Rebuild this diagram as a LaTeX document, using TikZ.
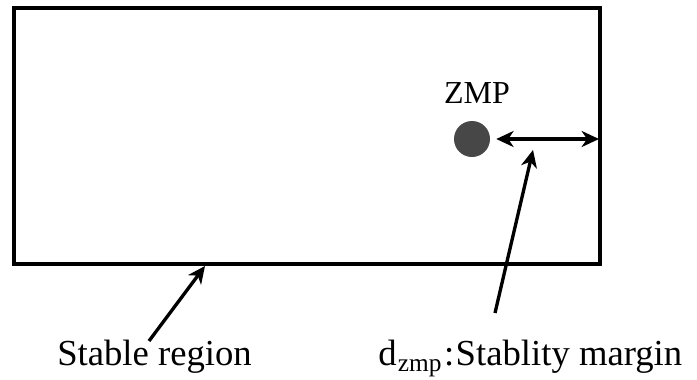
\documentclass[tikz,border=0pt]{standalone}
\usepackage{fontspec}
\setmainfont{Liberation Serif}
\usetikzlibrary{arrows.meta, positioning}

\begin{document}
\begin{tikzpicture}[
    x=0.75pt, y=-0.75pt,
    every node/.style={font=\fontsize{27.5}{32}\selectfont, inner sep=0pt},
    region/.style={draw, line width=3pt},
    arr/.style={-{Stealth[length=13pt, width=12pt, inset=4pt]}, line width=2.5pt}
  ]
  \useasboundingbox (0,0) rectangle (697,379);

  % stable region
  \draw[region] (14,8) rectangle (600,264);
  \coordinate (rb) at (205,266);
  \coordinate (edge) at (599,139);

  % ZMP
  \fill[black!72] (472,139) circle (13.5pt);
  \node (zmp) at (472,139) [minimum size=36pt, circle] {};
  \node[font=\fontsize{24}{28}\selectfont, anchor=base] (zmplbl) at (477,103) {ZMP};
  \draw[{Stealth[length=13pt, width=12pt, inset=4pt]}-{Stealth[length=13pt, width=12pt, inset=4pt]}, line width=2.5pt]
    (zmp.east) -- (edge);

  % labels
  \node[anchor=base west] (stable) at (57,365) {Stable region};
  \node[anchor=base west] (margin) at (378,365)
    {d\kern1pt\raisebox{-5pt}{\fontsize{19}{22}\selectfont zmp}\kern2pt:\kern1pt Stablity margin};
  \coordinate (st) at (149,341);
  \coordinate (mt) at (495,313);
  \coordinate (mh) at (533,150);
  \draw[arr] (st) -- (rb);
  \draw[arr] (mt) -- (mh);
\end{tikzpicture}
\end{document}
